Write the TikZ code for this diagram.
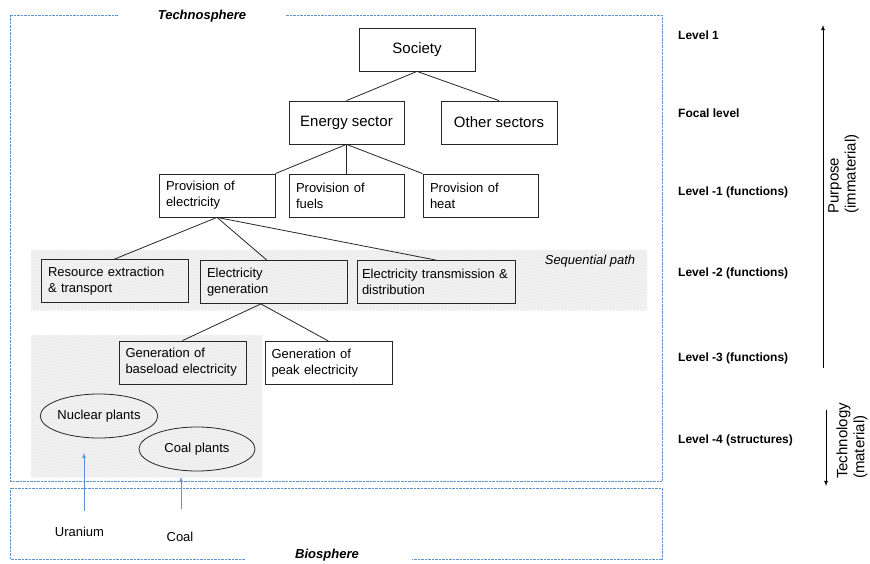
\documentclass[tikz,border=0pt]{standalone}
\usepackage{fontspec}
\setmainfont{Liberation Sans}
\usetikzlibrary{arrows,positioning,shapes,patterns}
\definecolor{spherecol}{RGB}{95,145,215}

\begin{document}
\begin{tikzpicture}[x=1pt,y=-1pt,
          txt/.style={font=\fontsize{13}{16}\selectfont},
          box/.style={draw=black!85,line width=0.8pt,rectangle,minimum height=43pt,inner xsep=7pt,txt},
          bigbox/.style={box,minimum width=116pt,font=\fontsize{15}{18}\selectfont},
          lbox/.style={box,align=left},
          plant/.style={draw=black!85,line width=0.8pt,ellipse,minimum width=116pt,minimum height=44pt,inner sep=0pt,txt},
          lvl/.style={anchor=west,inner xsep=0pt,font=\fontsize{12}{14}\selectfont\bfseries},
          sphere/.style={draw=spherecol,line width=0.7pt,dash pattern=on 0.7pt off 0.7pt},
          spherelab/.style={font=\fontsize{13}{16}\selectfont\bfseries\itshape},
          hatch/.style={preaction={fill=black!4},pattern=north east lines,pattern color=black!10},
          link/.style={draw=black!85,line width=0.8pt},
          flow/.style={draw=spherecol,line width=0.8pt,->,>=latex},
          axis/.style={draw=black,line width=0.8pt,->,>=latex}
        ]
        \useasboundingbox (0,0) rectangle (870,564);

        %shaded areas
        \fill[hatch] (31,250) rectangle (647,310);
        \fill[hatch] (31,335) rectangle (262,477);

        %spheres
        \draw[sphere] (118,15) -- (10,15) -- (10,481) -- (662,481) -- (662,15) -- (285,15);
        \draw[sphere] (245,559) -- (10,559) -- (10,488) -- (662,488) -- (662,559) -- (412,559);
        \node[spherelab] (techno) at (202,16) {Technosphere};
        \node[spherelab] (bio) at (327,555) {Biosphere};
        \node[txt,font=\fontsize{13}{16}\selectfont\itshape] (seq) at (590,261) {Sequential path};

        %hierarchy
        \node[bigbox] (soc) at (417,49.5) {Society};
        \node[bigbox,minimum width=115pt] (energy) at (346.5,122.5) {Energy sector};
        \node[bigbox] (other) at (499,122.5) {Other sectors};
        \node[lbox,text width=102pt] (pelec) at (217,195.5) {Provision of\\electricity};
        \node[lbox,text width=101pt] (pfuel) at (346.5,195.5) {Provision of\\fuels};
        \node[lbox,text width=101pt] (pheat) at (480.5,195.5) {Provision of\\heat};
        \node[lbox,text width=133pt] (res) at (114.5,281) {Resource extraction\\\& transport};
        \node[lbox,text width=133pt] (gen) at (273.5,282) {Electricity\\generation};
        \node[lbox,text width=148pt,inner xsep=5pt] (trans) at (436,282) {Electricity transmission \&\\distribution};
        \node[lbox,text width=114pt,inner xsep=6.5pt] (base) at (182.5,362.5) {Generation of\\baseload electricity};
        \node[lbox,text width=114pt,inner xsep=6.5pt] (peak) at (328.5,363) {Generation of\\peak electricity};
        \path[link]
        (soc.south) edge (energy.north)
        (soc.south) edge (other.north)
        (energy.south) edge (pelec.north east)
        (energy.south) edge (pfuel.north)
        (energy.south) edge (pheat.north west)
        (pelec.south) edge (res.north)
        (pelec.south) edge (gen.107)
        (pelec.south) edge (trans.north)
        (gen.240) edge (base.north)
        (gen.240) edge (peak.north)
        ;

        %structures
        \node[plant] (nuc) at (99,416) {Nuclear plants};
        \node[plant] (coal) at (197,449) {Coal plants};

        %resources
        \node[txt] (uran) at (79.5,532) {Uranium};
        \node[txt] (coalres) at (180,537) {Coal};
        \coordinate (uranin) at (84,453);
        \coordinate (coalin) at (181,477);
        \draw[flow,shorten <=13pt] (uran.north -| uranin) -- (uranin);
        \draw[flow,shorten <=20pt] (coalres.north -| coalin) -- (coalin);

        %levels
        \node[lvl] (l1) at (678,35) {Level 1};
        \node[lvl] (lfocal) at (678,113) {Focal level};
        \node[lvl] (lm1) at (678,192) {Level -1 (functions)};
        \node[lvl] (lm2) at (678,273) {Level -2 (functions)};
        \node[lvl] (lm3) at (678,358) {Level -3 (functions)};
        \node[lvl] (lm4) at (678,440) {Level -4 (structures)};

        %purpose and technology
        \coordinate (ptop) at (823,25);
        \coordinate (pbot) at (823,368);
        \coordinate (ttop) at (826,410);
        \coordinate (tbot) at (826,486);
        \draw[axis] (pbot) -- (ptop);
        \draw[axis] (ttop) -- (tbot);
        \node[rotate=90,align=left,font=\fontsize{15}{17}\selectfont] (purpose) at (843.5,174) {Purpose\\(immaterial)};
        \node[rotate=90,align=left,font=\fontsize{15}{17}\selectfont,inner sep=1pt] (techn) at (852,441) {Technology\\(material)};
    \end{tikzpicture}
\end{document}
